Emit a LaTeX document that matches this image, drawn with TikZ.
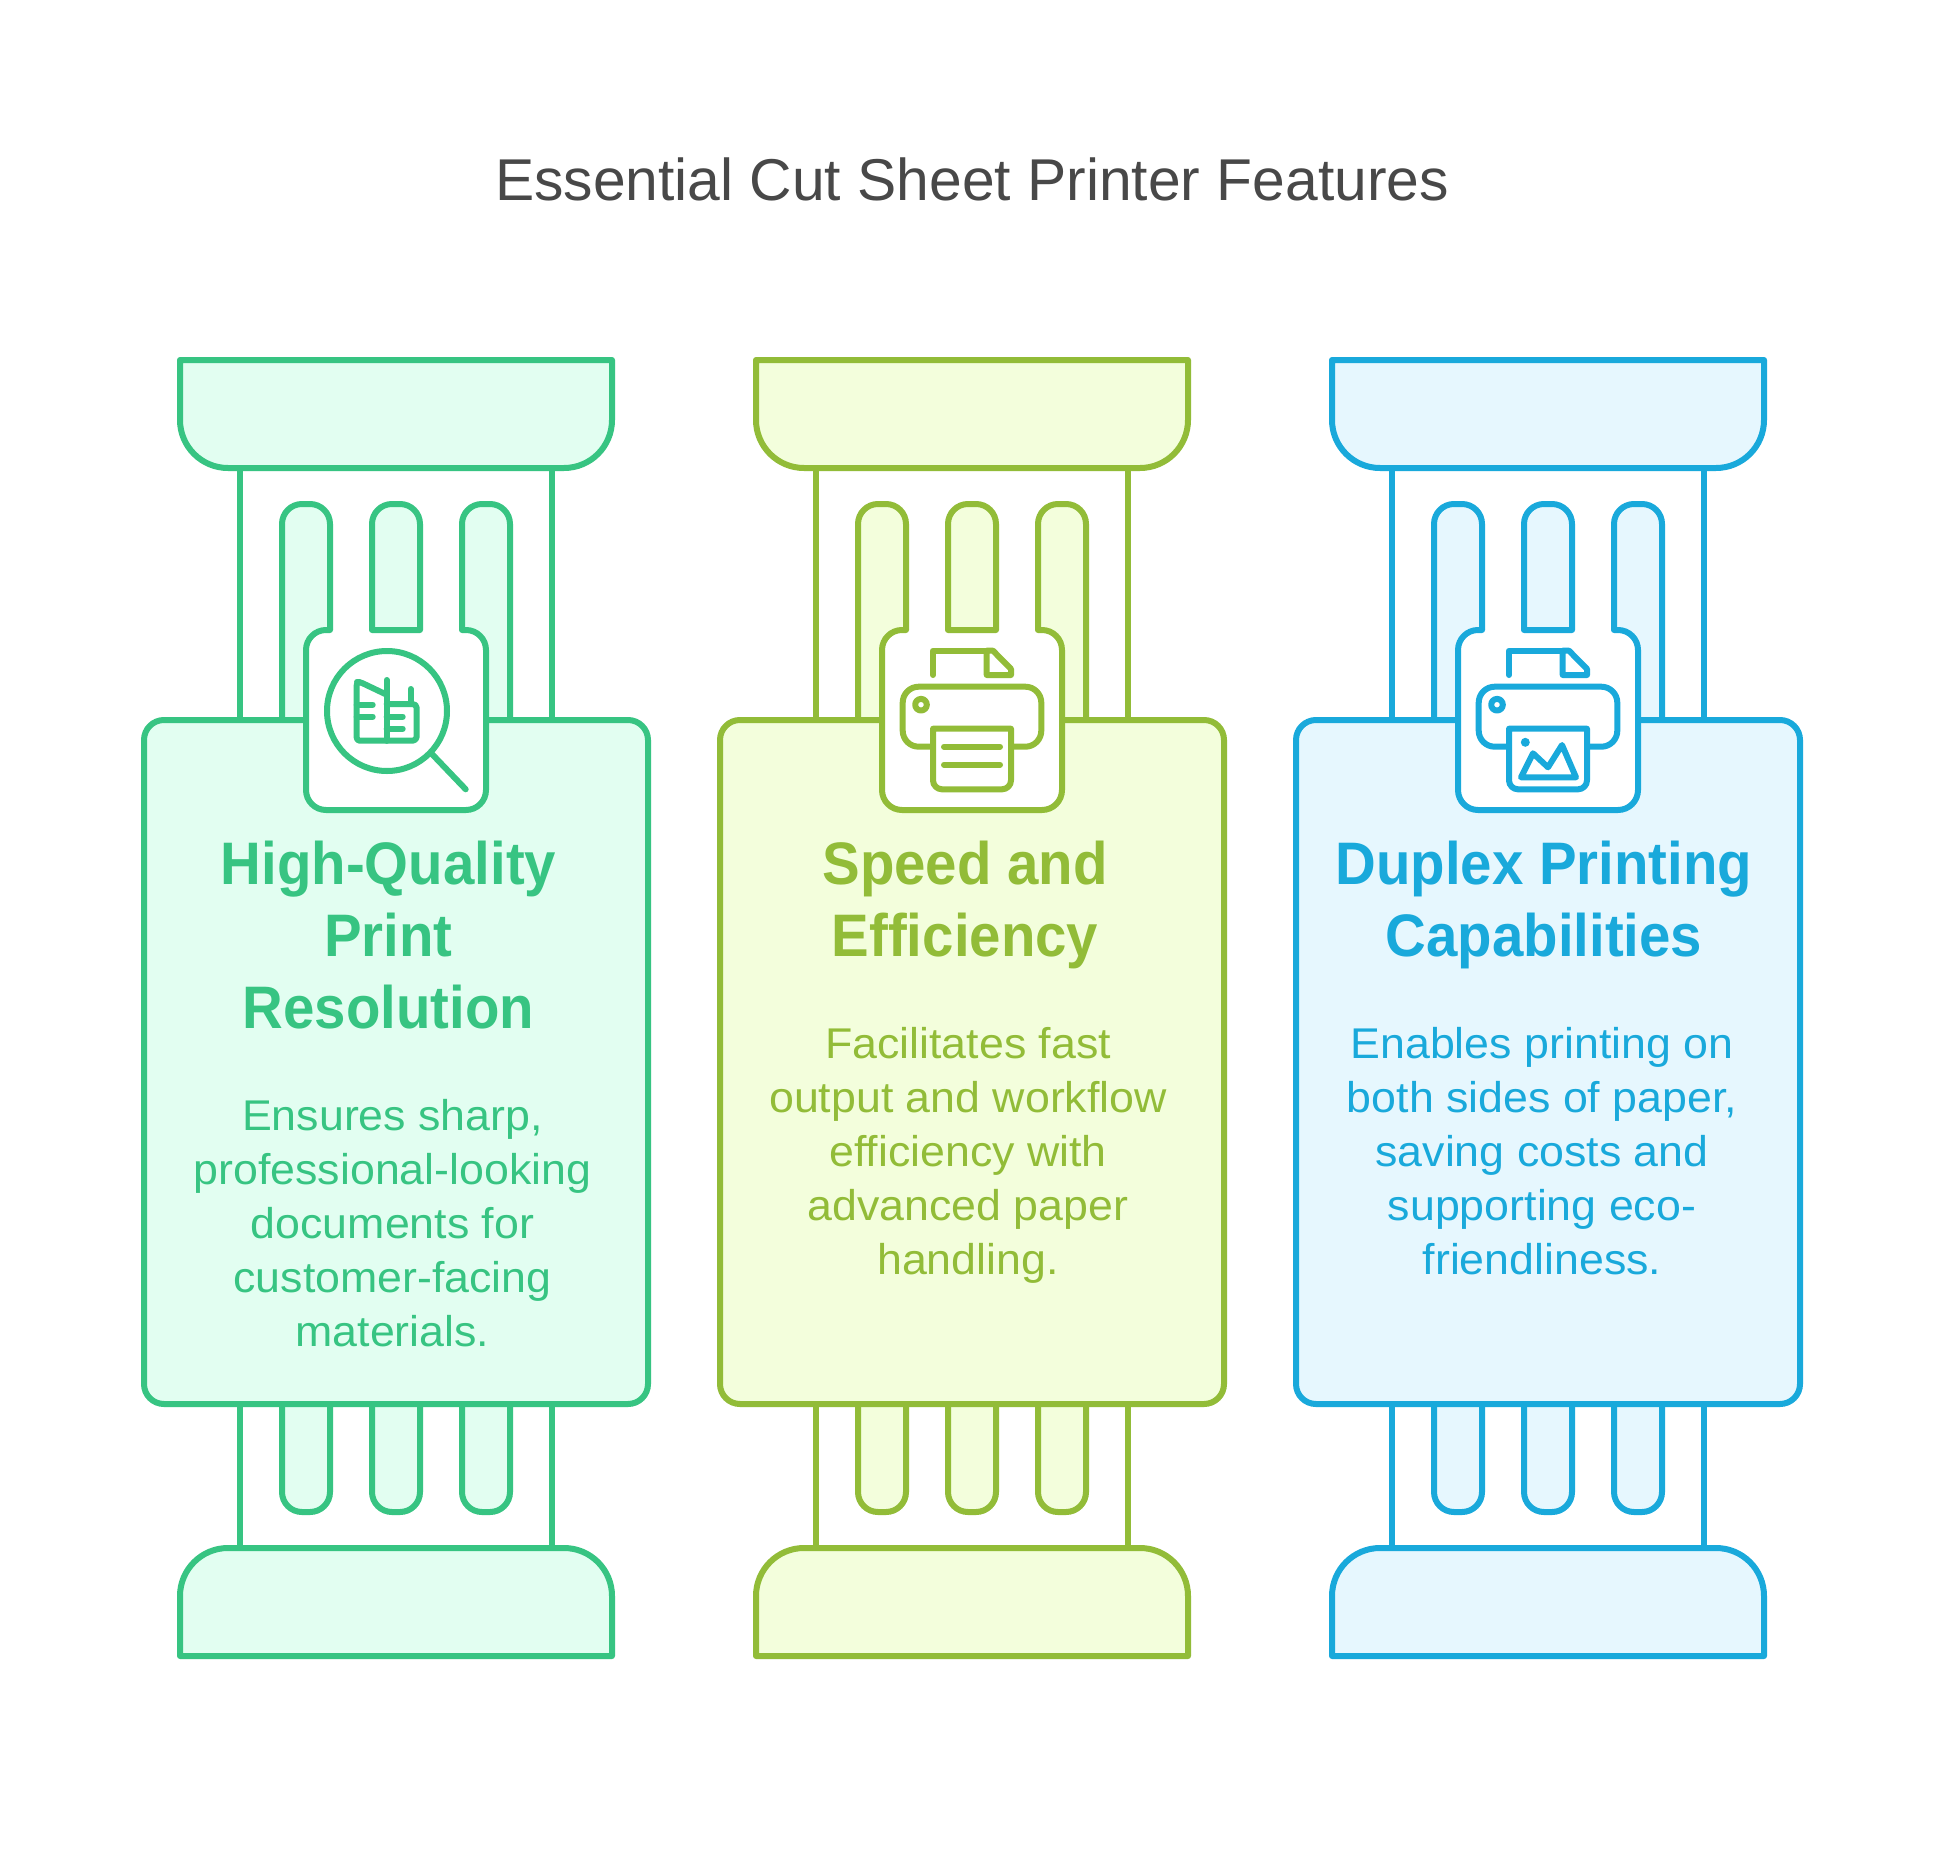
\documentclass[tikz,border=0pt]{standalone}
\usepackage{fontspec}
\setmainfont{Liberation Sans}
\newfontfamily\bodyfont[FakeStretch=1.04]{Liberation Sans}
\newfontfamily\headfont[FakeStretch=0.94]{Liberation Sans}
\newfontfamily\titlefont[FakeStretch=0.996]{Liberation Sans}
\definecolor{titlecol}{HTML}{484848}
\definecolor{gs}{HTML}{37C482}
\definecolor{gf}{HTML}{E2FEF1}
\definecolor{os}{HTML}{92BC38}
\definecolor{of}{HTML}{F3FEDC}
\definecolor{bs}{HTML}{19A9DB}
\definecolor{bf}{HTML}{E6F7FE}
\tikzset{
  x=1pt,y=-1pt,
  ln/.style={line width=6pt,draw=st,line join=round,line cap=round},
  lnf/.style={ln,fill=sf},
  lnw/.style={ln,fill=white},
  headtext/.style={text=st,align=center,inner sep=0pt,anchor=north,font=\headfont\bfseries\fontsize{60}{72}\selectfont},
  bodytext/.style={text=st,align=center,inner sep=0pt,anchor=north,font=\bodyfont\fontsize{43}{54}\selectfont},
}
\newcommand{\pillarshape}{%
  % shafts
  \draw[ln,line cap=butt] (240,468) -- (240,720) (552,468) -- (552,720) (240,1404) -- (240,1548) (552,1404) -- (552,1548);
  % top flutes (outer two run behind the icon tab)
  \draw[lnf,draw=none,rounded corners=20pt] (282,720) -- (282,504) -- (330,504) [sharp corners] -- (330,720) -- cycle;
  \draw[lnf,draw=none,rounded corners=20pt] (462,720) -- (462,504) -- (510,504) [sharp corners] -- (510,720) -- cycle;
  \draw[ln,rounded corners=20pt] (282,720) -- (282,504) -- (330,504) -- (330,630);
  \draw[ln,rounded corners=20pt] (510,720) -- (510,504) -- (462,504) -- (462,630);
  % bottom flutes
  \foreach \fx in {282,372,462}{
    \draw[lnf,line cap=butt,rounded corners=20pt] (\fx,1404) -- (\fx,1512) -- ({\fx+48},1512) -- ({\fx+48},1404);
  }
  % capitals
  \draw[lnf] (180,360) -- (612,360) [rounded corners=48pt] -- (612,468) -- (180,468) [sharp corners] -- cycle;
  \draw[lnf] (180,1656) -- (612,1656) [rounded corners=48pt] -- (612,1548) -- (180,1548) [sharp corners] -- cycle;
  % body
  \draw[lnf,rounded corners=20pt] (144,720) -- (648,720) -- (648,1404) -- (144,1404) -- cycle;
  % icon tab
  \path[fill=white,rounded corners=20pt] (306,630) -- (486,630) -- (486,810) -- (306,810) -- cycle;
  \draw[ln,rounded corners=20pt] (330,630) -- (306,630) -- (306,810) -- (486,810) -- (486,630) -- (462,630);
  % middle top flute
  \draw[lnf] (372,630) [rounded corners=20pt] -- (372,504) -- (420,504) [sharp corners] -- (420,630) -- cycle;
}
\newcommand{\printerbase}{%
  \draw[ln] (933,675) -- (933,650.7) -- (986.7,650.7);
  \draw[ln] (986.7,650.7) -- (986.7,675) -- (1011,675) -- (1011,669) -- (993,650.7) -- cycle;
  \draw[ln,rounded corners=16pt] (933,746.7) -- (902.7,746.7) -- (902.7,686.7) -- (1041.3,686.7) -- (1041.3,746.7) -- (1011,746.7);
  \draw[ln] (921,704.7) circle[radius=5.8];
}
\newcommand{\paperbox}{%
  \draw[lnw] (933,728.7) -- (1011,728.7) [rounded corners=9pt] -- (1011,789.3) -- (933,789.3) [sharp corners] -- cycle;
}
\begin{document}
\begin{tikzpicture}
\useasboundingbox (0,0) rectangle (1944,1873);
\path[fill=white] (0,0) rectangle (1944,1873);
\node[inner sep=0pt,anchor=base,text=titlecol,font=\titlefont\fontsize{59}{70}\selectfont] (title) at (972,200.7) {Essential Cut Sheet Printer Features};

\begin{scope}
  \colorlet{st}{gs}\colorlet{sf}{gf}
  \pillarshape
  \draw[ln] (387,711) circle[radius=60];
  \draw[ln] (431,753) -- (465.7,789.3);
  \draw[ln,rounded corners=3pt] (386.7,740.7) -- (356.7,740.7) -- (356.7,682) -- (360,682) -- (386.7,694.7);
  \draw[ln,rounded corners=4pt] (386.7,704) -- (416.7,704) -- (416.7,740.7) -- (386.7,740.7);
  \draw[ln] (386.7,680) -- (386.7,740.7);
  \draw[ln] (410.7,689) -- (410.7,704);
  \draw[ln] (356.7,704.7) -- (372.7,704.7) (356.7,716.7) -- (372.7,716.7) (386.7,716.7) -- (402.7,716.7) (386.7,728.7) -- (402.7,728.7);
  \node[headtext] (h1) at (388.5,840.8) {High-Quality\\Print\\Resolution};
  \node[bodytext] (b1) at (392.5,1099) {Ensures sharp,\\professional-looking\\documents for\\customer-facing\\materials.};
\end{scope}

\begin{scope}
  \colorlet{st}{os}\colorlet{sf}{of}
  \begin{scope}[xshift=576pt]\pillarshape\end{scope}
  \printerbase
  \paperbox
  \draw[ln] (944,746.7) -- (1000,746.7) (944,764.7) -- (1000,764.7);
  \node[headtext] (h2) at (965,840.8) {Speed and\\Efficiency};
  \node[bodytext] (b2) at (968,1027) {Facilitates fast\\output and workflow\\efficiency with\\advanced paper\\handling.};
\end{scope}

\begin{scope}
  \colorlet{st}{bs}\colorlet{sf}{bf}
  \begin{scope}[xshift=1152pt]\pillarshape\end{scope}
  \begin{scope}[xshift=576pt]
    \printerbase
    \paperbox
    \fill[st] (949.3,742.3) circle[radius=4.5];
    \draw[ln] (945,777.3) -- (957,753.3) -- (972,767.3) -- (986,745) -- (1000,777.3) -- cycle;
  \end{scope}
  \node[headtext] (h3) at (1544,840.8) {Duplex Printing\\Capabilities};
  \node[bodytext] (b3) at (1542,1027) {Enables printing on\\both sides of paper,\\saving costs and\\supporting eco-\\friendliness.};
\end{scope}
\end{tikzpicture}
\end{document}
